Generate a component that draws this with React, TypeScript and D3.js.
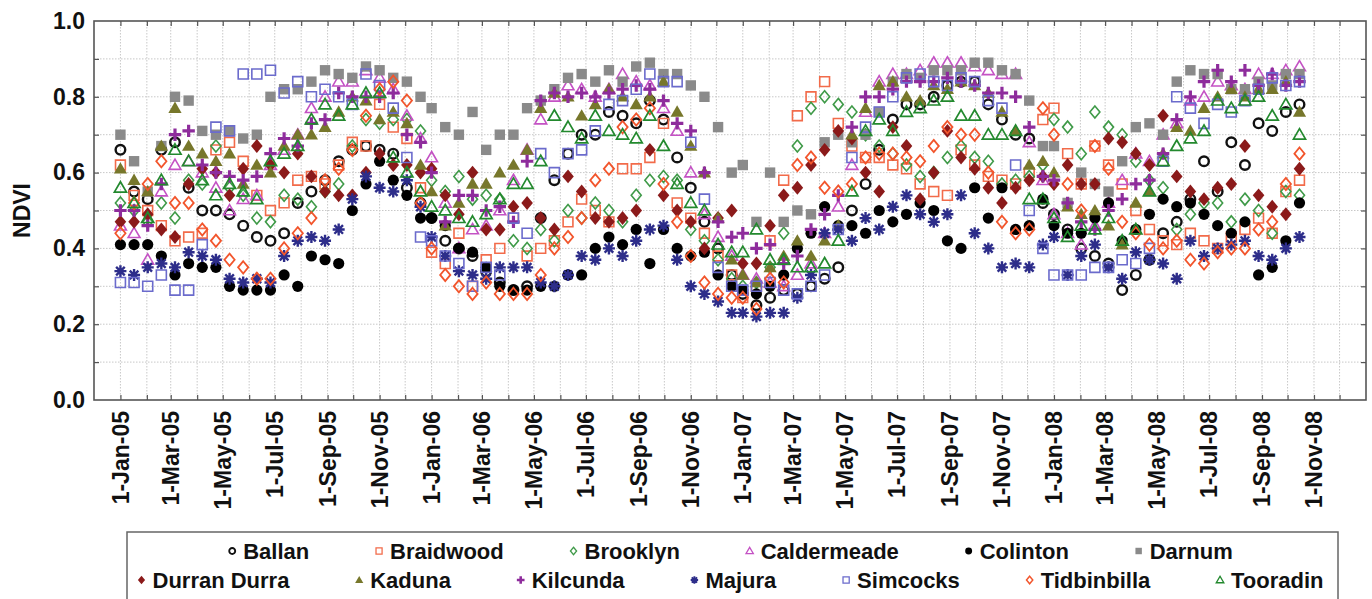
import { useRef, useEffect } from 'react'
import * as d3 from 'd3'

// NDVI time series, MODIS 16-day composites (Jan 2005 - Oct 2008)
const YEARS = [2005, 2006, 2007, 2008]
const COMPOSITE_DOY = [1, 17, 33, 49, 65, 81, 97, 113, 129, 145, 161, 177, 193, 209, 225, 241, 257, 273, 289, 305, 321, 337, 353]
const COMPOSITES_2008 = 19

const ballan = [
  0.66, 0.55, 0.53, 0.66, 0.68, 0.56, 0.50, 0.50, 0.49, 0.46, 0.43, 0.42, 0.44, 0.52, 0.55, 0.58, 0.63, 0.66, 0.67, 0.66, 0.65, 0.56, 0.52,
  0.48, 0.42, 0.40, 0.38, 0.34, 0.31, 0.29, 0.30, 0.48, 0.58, 0.65, 0.70, 0.70, 0.76, 0.75, 0.73, 0.79, 0.74, 0.64, 0.56, 0.47, 0.40, 0.33,
  0.28, 0.25, 0.27, 0.29, 0.28, 0.30, 0.32, 0.35, 0.50, 0.57, 0.66, 0.74, 0.78, 0.78, 0.80, 0.83, 0.84, 0.84, 0.78, 0.74, 0.70, 0.69, 0.52,
  0.49, 0.45, 0.40, 0.38, 0.36, 0.29, 0.33, 0.37, 0.44, 0.47, 0.53, 0.63, 0.55, 0.68, 0.62, 0.73, 0.71, 0.76, 0.78,
]
const braidwood = [
  0.62, 0.54, 0.50, 0.46, 0.42, 0.43, 0.44, 0.66, 0.68, 0.63, 0.54, 0.50, 0.52, 0.58, 0.59, 0.57, 0.62, 0.68, 0.67, 0.78, 0.72, 0.69, 0.56,
  0.39, 0.36, 0.44, 0.30, 0.37, 0.40, 0.48, 0.38, 0.40, 0.42, 0.47, 0.53, 0.50, 0.47, 0.61, 0.61, 0.64, 0.73, 0.52, 0.48, 0.44, 0.38, 0.33,
  0.27, 0.30, 0.42, 0.58, 0.75, 0.80, 0.84, 0.73, 0.67, 0.64, 0.64, 0.62, 0.61, 0.57, 0.55, 0.54, 0.66, 0.62, 0.59, 0.58, 0.57, 0.60, 0.74,
  0.77, 0.65, 0.57, 0.67, 0.62, 0.57, 0.50, 0.45, 0.42, 0.41, 0.44, 0.42, 0.40, 0.43, 0.45, 0.48, 0.44, 0.55, 0.58,
]
const brooklyn = [
  0.52, 0.50, 0.47, 0.52, 0.48, 0.58, 0.57, 0.67, 0.56, 0.54, 0.48, 0.47, 0.54, 0.53, 0.51, 0.55, 0.57, 0.67, 0.74, 0.73, 0.74, 0.74, 0.71,
  0.58, 0.55, 0.59, 0.53, 0.54, 0.53, 0.42, 0.40, 0.45, 0.42, 0.50, 0.48, 0.52, 0.50, 0.47, 0.54, 0.58, 0.59, 0.58, 0.45, 0.42, 0.37, 0.32,
  0.30, 0.31, 0.35, 0.44, 0.67, 0.77, 0.80, 0.78, 0.76, 0.70, 0.67, 0.65, 0.62, 0.59, 0.60, 0.64, 0.67, 0.64, 0.63, 0.57, 0.58, 0.59, 0.62,
  0.74, 0.72, 0.65, 0.76, 0.72, 0.70, 0.63, 0.58, 0.56, 0.45, 0.49, 0.52, 0.52, 0.47, 0.53, 0.50, 0.44, 0.55, 0.54,
]
const caldermeade = [
  0.46, 0.44, 0.37, 0.55, 0.62, 0.63, 0.60, 0.56, 0.50, 0.53, 0.54, 0.62, 0.66, 0.70, 0.77, 0.80, 0.84, 0.84, 0.87, 0.85, 0.82, 0.75, 0.69,
  0.64, 0.52, 0.40, 0.45, 0.46, 0.50, 0.58, 0.66, 0.74, 0.80, 0.83, 0.82, 0.80, 0.82, 0.86, 0.84, 0.83, 0.77, 0.71, 0.60, 0.49, 0.43, 0.38,
  0.33, 0.32, 0.31, 0.30, 0.33, 0.36, 0.44, 0.51, 0.62, 0.76, 0.84, 0.86, 0.86, 0.87, 0.89, 0.89, 0.89, 0.88, 0.87, 0.86, 0.86, 0.68, 0.58,
  0.49, 0.44, 0.41, 0.46, 0.52, 0.58, 0.65, 0.63, 0.70, 0.73, 0.79, 0.80, 0.84, 0.83, 0.82, 0.86, 0.86, 0.87, 0.88,
]
const colinton = [
  0.41, 0.41, 0.41, 0.38, 0.33, 0.36, 0.35, 0.35, 0.30, 0.29, 0.29, 0.29, 0.33, 0.30, 0.38, 0.37, 0.36, 0.50, 0.57, 0.63, 0.58, 0.54, 0.48,
  0.48, 0.46, 0.40, 0.39, 0.35, 0.30, 0.29, 0.29, 0.30, 0.30, 0.33, 0.33, 0.40, 0.43, 0.41, 0.45, 0.36, 0.45, 0.40, 0.38, 0.39, 0.33, 0.30,
  0.29, 0.28, 0.30, 0.33, 0.40, 0.44, 0.51, 0.46, 0.46, 0.44, 0.50, 0.47, 0.49, 0.52, 0.50, 0.42, 0.40, 0.56, 0.48, 0.56, 0.45, 0.46, 0.53,
  0.46, 0.44, 0.44, 0.48, 0.52, 0.42, 0.45, 0.49, 0.53, 0.51, 0.52, 0.49, 0.46, 0.44, 0.47, 0.33, 0.35, 0.42, 0.52,
]
const darnum = [
  0.70, 0.63, 0.55, 0.67, 0.80, 0.79, 0.71, 0.70, 0.71, 0.69, 0.70, 0.80, 0.82, 0.82, 0.84, 0.87, 0.86, 0.85, 0.88, 0.87, 0.85, 0.84, 0.80,
  0.77, 0.72, 0.70, 0.76, 0.66, 0.70, 0.70, 0.77, 0.79, 0.82, 0.85, 0.86, 0.84, 0.87, 0.84, 0.88, 0.89, 0.86, 0.86, 0.83, 0.80, 0.72, 0.60,
  0.62, 0.47, 0.60, 0.47, 0.50, 0.49, 0.68, 0.70, 0.68, 0.70, 0.76, 0.84, 0.86, 0.85, 0.87, 0.87, 0.87, 0.89, 0.89, 0.87, 0.86, 0.79, 0.67,
  0.67, 0.52, 0.60, 0.57, 0.55, 0.63, 0.72, 0.73, 0.70, 0.84, 0.87, 0.86, 0.86, 0.82, 0.82, 0.84, 0.83, 0.86, 0.86,
]
const durranDurra = [
  0.47, 0.47, 0.49, 0.45, 0.43, 0.57, 0.61, 0.60, 0.54, 0.61, 0.67, 0.62, 0.60, 0.65, 0.59, 0.55, 0.54, 0.54, 0.60, 0.65, 0.62, 0.62, 0.60,
  0.61, 0.54, 0.49, 0.60, 0.45, 0.45, 0.51, 0.52, 0.48, 0.45, 0.59, 0.55, 0.48, 0.47, 0.48, 0.50, 0.66, 0.54, 0.50, 0.47, 0.40, 0.48, 0.50,
  0.36, 0.36, 0.46, 0.54, 0.56, 0.62, 0.66, 0.71, 0.69, 0.60, 0.55, 0.72, 0.67, 0.53, 0.60, 0.71, 0.64, 0.61, 0.56, 0.52, 0.56, 0.58, 0.59,
  0.57, 0.62, 0.57, 0.57, 0.69, 0.68, 0.65, 0.62, 0.75, 0.59, 0.55, 0.53, 0.56, 0.57, 0.67, 0.54, 0.51, 0.49, 0.61,
]
const kaduna = [
  0.61, 0.58, 0.55, 0.67, 0.77, 0.67, 0.65, 0.63, 0.65, 0.57, 0.62, 0.60, 0.67, 0.70, 0.70, 0.72, 0.76, 0.80, 0.79, 0.74, 0.76, 0.73, 0.62,
  0.55, 0.46, 0.52, 0.57, 0.57, 0.60, 0.62, 0.66, 0.77, 0.81, 0.80, 0.75, 0.78, 0.82, 0.80, 0.78, 0.80, 0.84, 0.76, 0.67, 0.60, 0.48, 0.37,
  0.33, 0.31, 0.35, 0.38, 0.42, 0.38, 0.42, 0.46, 0.70, 0.77, 0.83, 0.84, 0.80, 0.79, 0.83, 0.82, 0.84, 0.83, 0.81, 0.76, 0.71, 0.62, 0.63,
  0.60, 0.51, 0.49, 0.50, 0.46, 0.41, 0.52, 0.55, 0.65, 0.72, 0.71, 0.77, 0.80, 0.82, 0.80, 0.82, 0.82, 0.84, 0.76,
]
const kilcunda = [
  0.50, 0.50, 0.46, 0.57, 0.70, 0.71, 0.62, 0.60, 0.59, 0.58, 0.59, 0.65, 0.69, 0.67, 0.73, 0.74, 0.81, 0.80, 0.80, 0.80, 0.81, 0.70, 0.68,
  0.60, 0.47, 0.54, 0.54, 0.50, 0.51, 0.47, 0.63, 0.79, 0.81, 0.80, 0.81, 0.80, 0.81, 0.82, 0.83, 0.82, 0.79, 0.73, 0.71, 0.60, 0.47, 0.43,
  0.44, 0.40, 0.41, 0.36, 0.38, 0.45, 0.49, 0.54, 0.72, 0.80, 0.80, 0.82, 0.84, 0.84, 0.84, 0.85, 0.84, 0.83, 0.81, 0.81, 0.80, 0.72, 0.59,
  0.58, 0.52, 0.47, 0.45, 0.50, 0.53, 0.57, 0.58, 0.65, 0.74, 0.80, 0.84, 0.87, 0.84, 0.87, 0.83, 0.86, 0.83, 0.84,
]
const majura = [
  0.34, 0.33, 0.35, 0.36, 0.35, 0.39, 0.38, 0.37, 0.32, 0.31, 0.32, 0.31, 0.38, 0.42, 0.43, 0.42, 0.45, 0.53, 0.59, 0.56, 0.55, 0.58, 0.51,
  0.43, 0.38, 0.34, 0.33, 0.32, 0.35, 0.35, 0.35, 0.31, 0.30, 0.33, 0.38, 0.37, 0.40, 0.38, 0.42, 0.45, 0.46, 0.37, 0.30, 0.28, 0.26, 0.23,
  0.23, 0.22, 0.23, 0.23, 0.27, 0.33, 0.44, 0.45, 0.42, 0.48, 0.45, 0.51, 0.54, 0.49, 0.47, 0.49, 0.54, 0.44, 0.40, 0.35, 0.36, 0.35, 0.41,
  0.43, 0.33, 0.38, 0.41, 0.35, 0.32, 0.39, 0.37, 0.36, 0.32, 0.42, 0.38, 0.40, 0.41, 0.42, 0.38, 0.37, 0.40, 0.43,
]
const simcocks = [
  0.31, 0.31, 0.30, 0.33, 0.29, 0.29, 0.41, 0.72, 0.71, 0.86, 0.86, 0.87, 0.81, 0.84, 0.80, 0.82, 0.80, 0.78, 0.86, 0.83, 0.77, 0.64, 0.43,
  0.42, 0.38, 0.36, 0.30, 0.35, 0.33, 0.48, 0.44, 0.65, 0.60, 0.65, 0.66, 0.71, 0.78, 0.79, 0.82, 0.86, 0.84, 0.84, 0.68, 0.53, 0.35, 0.30,
  0.29, 0.30, 0.31, 0.29, 0.28, 0.30, 0.33, 0.45, 0.64, 0.72, 0.76, 0.80, 0.85, 0.86, 0.84, 0.83, 0.85, 0.84, 0.79, 0.77, 0.62, 0.50, 0.40,
  0.33, 0.33, 0.33, 0.35, 0.35, 0.37, 0.36, 0.40, 0.63, 0.80, 0.77, 0.73, 0.78, 0.76, 0.79, 0.82, 0.85, 0.83, 0.84,
]
const tidbinbilla = [
  0.44, 0.52, 0.57, 0.63, 0.52, 0.52, 0.45, 0.42, 0.37, 0.35, 0.32, 0.32, 0.40, 0.44, 0.48, 0.58, 0.61, 0.66, 0.75, 0.82, 0.84, 0.79, 0.52,
  0.40, 0.33, 0.30, 0.28, 0.31, 0.28, 0.28, 0.28, 0.33, 0.40, 0.43, 0.48, 0.58, 0.61, 0.72, 0.74, 0.77, 0.57, 0.47, 0.38, 0.31, 0.28, 0.27,
  0.27, 0.24, 0.32, 0.31, 0.62, 0.64, 0.56, 0.55, 0.57, 0.64, 0.65, 0.65, 0.64, 0.63, 0.67, 0.72, 0.70, 0.70, 0.60, 0.47, 0.44, 0.45, 0.77,
  0.70, 0.57, 0.50, 0.67, 0.61, 0.47, 0.44, 0.41, 0.40, 0.42, 0.37, 0.36, 0.39, 0.40, 0.40, 0.45, 0.47, 0.57, 0.65,
]
const tooradin = [
  0.56, 0.52, 0.48, 0.58, 0.66, 0.63, 0.58, 0.54, 0.57, 0.55, 0.53, 0.63, 0.65, 0.67, 0.74, 0.78, 0.75, 0.78, 0.81, 0.81, 0.64, 0.60, 0.55,
  0.51, 0.50, 0.48, 0.47, 0.49, 0.53, 0.57, 0.57, 0.63, 0.75, 0.72, 0.69, 0.75, 0.71, 0.70, 0.69, 0.75, 0.67, 0.57, 0.52, 0.50, 0.41, 0.39,
  0.39, 0.45, 0.37, 0.37, 0.35, 0.35, 0.36, 0.42, 0.55, 0.71, 0.74, 0.71, 0.76, 0.77, 0.79, 0.80, 0.75, 0.75, 0.70, 0.70, 0.71, 0.53, 0.53,
  0.48, 0.43, 0.46, 0.45, 0.48, 0.42, 0.45, 0.55, 0.63, 0.67, 0.69, 0.71, 0.79, 0.77, 0.79, 0.80, 0.75, 0.78, 0.70,
]

const SITES = ['Ballan', 'Braidwood', 'Brooklyn', 'Caldermeade', 'Colinton', 'Darnum',
  'Durran Durra', 'Kaduna', 'Kilcunda', 'Majura', 'Simcocks', 'Tidbinbilla', 'Tooradin']
const SITE_VALUES = [ballan, braidwood, brooklyn, caldermeade, colinton, darnum,
  durranDurra, kaduna, kilcunda, majura, simcocks, tidbinbilla, tooradin]

const Y_TICKS = [0, 0.2, 0.4, 0.6, 0.8, 1.0]

// marker style per site (same order as SITES)
const STYLES = [
  { shape: 'circle', fill: 'none', stroke: '#111', sw: 2.4, s: 4.8 },
  { shape: 'square', fill: 'none', stroke: '#f26b4a', sw: 1.6, s: 4.9 },
  { shape: 'diamond', fill: 'none', stroke: '#3f9a48', sw: 1.6, s: 5.0 },
  { shape: 'triangle', fill: 'none', stroke: '#c452c4', sw: 1.6, s: 5.4 },
  { shape: 'circle', fill: '#000', stroke: 'none', sw: 0, s: 5.6 },
  { shape: 'square', fill: '#8a8a8a', stroke: 'none', sw: 0, s: 5.2 },
  { shape: 'diamond', fill: '#8b1a1a', stroke: 'none', sw: 0, s: 5.8 },
  { shape: 'triangle', fill: '#77772b', stroke: 'none', sw: 0, s: 6.0 },
  { shape: 'plus', fill: 'none', stroke: '#8e2c9c', sw: 3.2, s: 6.2 },
  { shape: 'star', fill: 'none', stroke: '#2d2d8a', sw: 2.4, s: 6.0 },
  { shape: 'square', fill: 'none', stroke: '#6b6bcc', sw: 1.6, s: 5.0 },
  { shape: 'diamond', fill: 'none', stroke: '#f2552c', sw: 1.8, s: 5.1 },
  { shape: 'triangle', fill: 'none', stroke: '#23892e', sw: 1.7, s: 5.5 },
]

const symbolPath = (shape: string, s: number) => {
  switch (shape) {
    case 'circle': return `M${-s},0A${s},${s} 0 1,0 ${s},0A${s},${s} 0 1,0 ${-s},0Z`
    case 'square': return `M${-s},${-s}H${s}V${s}H${-s}Z`
    case 'diamond': return `M0,${-s * 1.2}L${s},0L0,${s * 1.2}L${-s},0Z`
    case 'triangle': return `M0,${-s * 1.1}L${s * 1.1},${s * 0.8}L${-s * 1.1},${s * 0.8}Z`
    case 'plus': return `M${-s},0H${s}M0,${-s}V${s}`
    default: {
      const d = s * 0.72
      return `M${-s},0H${s}M0,${-s}V${s}M${-d},${-d}L${d},${d}M${-d},${d}L${d},${-d}`
    }
  }
}

const FONT = "'Liberation Sans', Arial, sans-serif"

const App = () => {
  const svgRef = useRef<SVGSVGElement>(null)

  useEffect(() => {
    const w = 1372
    const h = 599
    const m = { left: 94, right: 1366, top: 21, bottom: 400 }
    const svg = d3.select(svgRef.current)
    svg.selectAll('*').remove()
    svg.attr('width', w).attr('height', h).style('background', '#fff')

    const dates: Date[] = YEARS.flatMap(yr =>
      COMPOSITE_DOY.slice(0, yr === 2008 ? COMPOSITES_2008 : COMPOSITE_DOY.length)
        .map(doy => new Date(yr, 0, doy)))

    const x = d3.scaleTime()
      .domain([new Date(2004, 11, 1), new Date(2009, 0, 1)])
      .range([m.left, m.right])
    const y = d3.scaleLinear().domain([0, 1]).range([m.bottom, m.top])

    const months = d3.timeMonth.range(new Date(2005, 0, 1), new Date(2009, 0, 1))
    const labelMonths = d3.timeMonth.every(2)!.range(new Date(2005, 0, 1), new Date(2008, 11, 1))
    const yMinor = d3.range(1, 10).map(i => i / 10)

    // grid
    const grid = svg.append('g').attr('stroke', '#c8c8c8').attr('stroke-width', 1).attr('stroke-dasharray', '1.5,1.5')
    grid.selectAll('.gx').data(months).join('line')
      .attr('x1', d => x(d)).attr('x2', d => x(d)).attr('y1', m.top).attr('y2', m.bottom)
    grid.selectAll('.gy').data(yMinor).join('line')
      .attr('y1', d => y(d)).attr('y2', d => y(d)).attr('x1', m.left).attr('x2', m.right)

    // inward ticks
    const tickG = (axis: any, tx: number, ty: number) => {
      const g = svg.append('g').attr('transform', `translate(${tx},${ty})`).call(axis)
      g.select('.domain').remove()
      g.selectAll('text').remove()
      g.selectAll('line').attr('stroke', '#555').attr('stroke-width', 1.2)
    }
    tickG(d3.axisBottom(x).tickValues(months).tickSize(-5), 0, m.bottom)
    tickG(d3.axisTop(x).tickValues(months).tickSize(-5), 0, m.top)
    tickG(d3.axisLeft(y).tickValues(yMinor).tickSize(-5), m.left, 0)
    tickG(d3.axisRight(y).tickValues(yMinor).tickSize(-5), m.right, 0)

    // y labels
    const yAx = svg.append('g').attr('transform', `translate(${m.left},0)`)
      .call(d3.axisLeft(y).tickValues(Y_TICKS).tickSize(0).tickPadding(9).tickFormat(d3.format('.1f')))
    yAx.select('.domain').remove()
    yAx.selectAll('text').attr('font-family', FONT).attr('font-size', 23).attr('font-weight', 'bold').attr('fill', '#111')

    // x labels, rotated
    const fmt = d3.timeFormat('%-d-%b-%y')
    svg.append('g').selectAll('text').data(labelMonths).join('text')
      .attr('transform', d => `translate(${x(d)},${m.bottom + 11}) rotate(-90)`)
      .attr('text-anchor', 'end').attr('dy', '0.36em')
      .attr('font-family', FONT).attr('font-size', 23).attr('font-weight', 'bold').attr('fill', '#111')
      .text(d => fmt(d))

    svg.append('text')
      .attr('transform', `translate(30,${(m.top + m.bottom) / 2}) rotate(-90)`)
      .attr('text-anchor', 'middle')
      .attr('font-family', FONT).attr('font-size', 23).attr('font-weight', 'bold').attr('fill', '#111')
      .text('NDVI')

    // points
    const plot = svg.append('g')
    SITES.forEach((site, i) => {
      const st = STYLES[i]
      const pts = SITE_VALUES[i].map((v, k) => ({ date: dates[k], v })).filter(p => p.v != null)
      plot.append('g').attr('class', site)
        .selectAll('path').data(pts).join('path')
        .attr('transform', d => `translate(${x(d.date)},${y(d.v)})`)
        .attr('d', symbolPath(st.shape, st.s))
        .attr('fill', st.fill).attr('stroke', st.stroke).attr('stroke-width', st.sw)
    })

    // frame
    svg.append('rect').attr('x', m.left).attr('y', m.top)
      .attr('width', m.right - m.left).attr('height', m.bottom - m.top)
      .attr('fill', 'none').attr('stroke', '#555').attr('stroke-width', 1.6)

    // legend
    const lg = svg.append('g')
    lg.append('rect').attr('x', 127).attr('y', 532).attr('width', 1211).attr('height', 68)
      .attr('fill', '#fff').attr('stroke', '#666').attr('stroke-width', 1.5)
    const rows = [SITES.slice(0, 6), SITES.slice(6)]
    const rowY = [551, 580]
    const markGap = 14
    const items = rows.map((row, r) => row.map(name => {
      const t = lg.append('text').attr('y', rowY[r]).attr('dy', '0.36em')
        .attr('font-family', FONT).attr('font-size', 22).attr('font-weight', 'bold').attr('fill', '#111')
        .text(name)
      return { name, t, wdt: (t.node() as SVGTextElement).getComputedTextLength() }
    }))
    const row2Span = 1322 - 137
    const textSum2 = d3.sum(items[1], d => d.wdt + markGap)
    const gap = (row2Span - textSum2) / (items[1].length - 1)
    items.forEach((row, r) => {
      const total = d3.sum(row, d => d.wdt + markGap) + gap * (row.length - 1)
      let cx = 731 - total / 2
      row.forEach(it => {
        const st = STYLES[SITES.indexOf(it.name)]
        lg.append('path')
          .attr('transform', `translate(${cx + 3},${rowY[r]})`)
          .attr('d', symbolPath(st.shape, st.s * 0.62))
          .attr('fill', st.fill).attr('stroke', st.stroke).attr('stroke-width', st.sw * 0.8)
        it.t.attr('x', cx + markGap)
        cx += markGap + it.wdt + gap
      })
    })
  }, [])

  return (
    <div>
      <svg ref={svgRef} style={{ position: 'absolute', left: 0, top: 0 }}></svg>
    </div>
  )
}

export default App
